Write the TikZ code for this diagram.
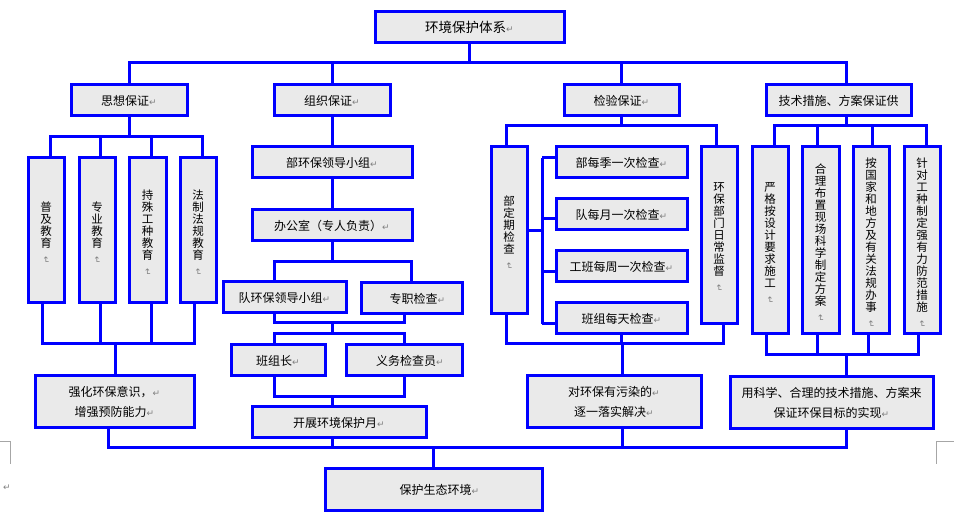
\documentclass[tikz,border=0pt]{standalone}
\usepackage{fontspec}
\usepackage{graphicx}
\setmainfont{Noto Sans CJK SC}
\newfontfamily\symf{DejaVu Sans}
\definecolor{lineblue}{RGB}{0,0,255}
\definecolor{boxfill}{RGB}{234,234,234}
\newcommand\rmk{{\color{gray}\symf\fontsize{9}{9}\selectfont ↵}}
\newcommand\vrmk{\raisebox{3pt}[5pt][0pt]{\color{gray}\rotatebox{-90}{\symf\fontsize{9}{9}\selectfont ↵}}}
\begin{document}
\begin{tikzpicture}[x=1pt,y=-1pt,
  box/.style={draw=lineblue, line width=3pt, fill=boxfill, inner sep=0pt,
    font=\fontsize{12}{14}\selectfont, align=center},
  vbox/.style={box, minimum width=36pt, font=\fontsize{11.5}{12}\selectfont},
  conn/.style={draw=lineblue, line width=3pt},
  pmark/.style={draw=gray!70, line width=0.8pt}]
\useasboundingbox (0,0) rectangle (954,518);

% ---------- nodes ----------
\node[box, minimum width=189pt, minimum height=31pt, font=\fontsize{13.5}{15}\selectfont] (top) at (469.5,27.5) {环境保护体系\rmk};

\node[box, minimum width=116pt, minimum height=31pt] (sx) at (129,100.5) {思想保证\rmk};
\node[box, minimum width=116pt, minimum height=31pt] (zz) at (332,100.5) {组织保证\rmk};
\node[box, minimum width=115pt, minimum height=31pt] (jy) at (621.5,100.5) {检验保证\rmk};
\node[box, minimum width=145pt, minimum height=31pt] (js) at (838.5,100.5) {技术措施、方案保证供};

% thought column
\node[vbox, minimum height=145pt] (b1) at (46,230.5) {普\\及\\教\\育\\\vrmk};
\node[vbox, minimum height=145pt] (b2) at (97,230.5) {专\\业\\教\\育\\\vrmk};
\node[vbox, minimum width=37pt, minimum height=145pt] (b3) at (147.5,230.5) {持\\殊\\工\\种\\教\\育\\\vrmk};
\node[vbox, minimum height=145pt] (b4) at (198,230.5) {法\\制\\法\\规\\教\\育\\\vrmk};
\node[box, minimum width=159pt, minimum height=52pt, font=\fontsize{12}{20}\selectfont] (qh) at (114.5,402) {强化环保意识，\rmk\\增强预防能力\rmk};

% organisation column
\node[box, minimum width=160pt, minimum height=31pt] (bu) at (332,162.5) {部环保领导小组\rmk};
\node[box, minimum width=160pt, minimum height=31pt] (bgs) at (332,225.5) {办公室（专人负责）\rmk};
\node[box, minimum width=123pt, minimum height=31pt] (dui) at (284.5,297.5) {队环保领导小组\rmk};
\node[box, minimum width=101pt, minimum height=31pt] (zhuan) at (411.5,298.5) {\quad 专职检查\rmk};
\node[box, minimum width=94pt, minimum height=31pt] (bzz) at (278,360.5) {班组长\rmk};
\node[box, minimum width=116pt, minimum height=31pt] (yw) at (404,360.5) {\quad 义务检查员\rmk};
\node[box, minimum width=174pt, minimum height=31pt] (kz) at (339,422.5) {开展环境保护月\rmk};

% inspection column
\node[vbox, minimum height=167pt] (ddq) at (509,230.5) {部\\定\\期\\检\\查\\\vrmk};
\node[vbox, minimum height=177pt] (rc) at (719,235.5) {环\\保\\部\\门\\日\\常\\监\\督\\\vrmk};
\node[box, minimum width=131pt, minimum height=31pt] (s1) at (621.5,162.5) {部每季一次检查\rmk};
\node[box, minimum width=131pt, minimum height=31pt] (s2) at (621.5,214.5) {队每月一次检查\rmk};
\node[box, minimum width=131pt, minimum height=31pt] (s3) at (621.5,266.5) {工班每周一次检查\rmk};
\node[box, minimum width=131pt, minimum height=31pt] (s4) at (621.5,318.5) {班组每天检查\rmk};
\node[box, minimum width=174pt, minimum height=52pt, font=\fontsize{12}{20}\selectfont] (dh) at (614,402) {对环保有污染的\rmk\\逐一落实解决\rmk};

% technical column
\node[vbox, minimum height=187pt] (v1) at (770,240.5) {严\\格\\按\\设\\计\\要\\求\\施\\工\\\vrmk};
\node[vbox, minimum width=37pt, minimum height=187pt] (v2) at (820.5,240.5) {合\\理\\布\\置\\现\\场\\科\\学\\制\\定\\方\\案\\\vrmk};
\node[vbox, minimum height=187pt] (v3) at (871,240.5) {按\\国\\家\\和\\地\\方\\及\\有\\关\\法\\规\\办\\事\\\vrmk};
\node[vbox, minimum height=187pt] (v4) at (922,240.5) {针\\对\\工\\种\\制\\定\\强\\有\\力\\防\\范\\措\\施\\\vrmk};
\node[box, minimum width=203pt, minimum height=52pt, font=\fontsize{12}{20}\selectfont] (yk) at (831.5,403) {用科学、合理的技术措施、方案来\\保证环保目标的实现\rmk};

\node[box, minimum width=217pt, minimum height=42pt] (bh) at (433.5,490) {\quad 保护生态环境\rmk};

% ---------- bus levels ----------
\coordinate (yTop) at (0,63);
\coordinate (ySx) at (0,137);
\coordinate (ySxB) at (0,344);
\coordinate (yBot) at (0,448);
\coordinate (yZ1) at (0,262);
\coordinate (yZ2) at (0,323);
\coordinate (yZ3) at (0,334);
\coordinate (yZ4) at (0,397);
\coordinate (yJ) at (0,126);
\coordinate (yJB) at (0,344);
\coordinate (yKB) at (0,355);
\coordinate (br1) at (542,158);
\coordinate (br2) at (542,219);
\coordinate (br3) at (542,272);
\coordinate (br4) at (542,324);

% ---------- connectors ----------
\draw[conn] (top.south) -- (top.south |- yTop);
\draw[conn] (sx.north) -- (sx.north |- yTop) -- ([xshift=7.5pt]js.north |- yTop) -- ([xshift=7.5pt]js.north);
\draw[conn] (zz.north) -- (zz.north |- yTop);
\draw[conn] (jy.north) -- (jy.north |- yTop);

% thought
\draw[conn] (sx.south) -- (sx.south |- ySx);
\draw[conn] ([xshift=4pt]b1.north) -- ([xshift=4pt]b1.north |- ySx) -- ([xshift=4pt]b4.north |- ySx) -- ([xshift=4pt]b4.north);
\draw[conn] ([xshift=3pt]b2.north) -- ([xshift=3pt]b2.north |- ySx);
\draw[conn] ([xshift=3.5pt]b3.north) -- ([xshift=3.5pt]b3.north |- ySx);
\draw[conn] ([xshift=-4pt]b1.south) -- ([xshift=-4pt]b1.south |- ySxB) -- ([xshift=-4pt]b4.south |- ySxB) -- ([xshift=-4pt]b4.south);
\draw[conn] ([xshift=3pt]b2.south) -- ([xshift=3pt]b2.south |- ySxB);
\draw[conn] ([xshift=3.5pt]b3.south) -- ([xshift=3.5pt]b3.south |- ySxB);
\draw[conn] ([xshift=0.5pt]qh.north) -- ([xshift=0.5pt]qh.north |- ySxB);

% organisation
\draw[conn] (zz.south) -- (bu.north);
\draw[conn] (bu.south) -- (bgs.north);
\draw[conn] (bgs.south) -- (bgs.south |- yZ1);
\draw[conn] ([xshift=-10.5pt]dui.north) -- ([xshift=-10.5pt]dui.north |- yZ1) -- (zhuan.north |- yZ1) -- (zhuan.north);
\draw[conn] ([xshift=-10.5pt]dui.south) -- ([xshift=-10.5pt]dui.south |- yZ2) -- ([xshift=-7.5pt]zhuan.south |- yZ2) -- ([xshift=-7.5pt]zhuan.south);
\draw[conn] (bgs.south |- yZ2) -- (bgs.south |- yZ3);
\draw[conn] ([xshift=-4pt]bzz.north) -- ([xshift=-4pt]bzz.north |- yZ3) -- (yw.north |- yZ3) -- (yw.north);
\draw[conn] ([xshift=-4pt]bzz.south) -- ([xshift=-4pt]bzz.south |- yZ4) -- (yw.south |- yZ4) -- (yw.south);
\draw[conn] (bgs.south |- yZ4) -- ([xshift=-7pt]kz.north);

% inspection
\draw[conn] (jy.south) -- (jy.south |- yJ);
\draw[conn] ([xshift=-3pt]ddq.north) -- ([xshift=-3pt]ddq.north |- yJ) -- ([xshift=-3pt]rc.north |- yJ) -- ([xshift=-3pt]rc.north);
\draw[conn] (ddq.east) -- (ddq.east -| br1);
\draw[conn] (br1) -- (br4);
\draw[conn] (br1) -- (br1 -| s1.west);
\draw[conn] (br2) -- (br2 -| s2.west);
\draw[conn] (br3) -- (br3 -| s3.west);
\draw[conn] (br4) -- (br4 -| s4.west);
\draw[conn] ([xshift=-3pt]ddq.south) -- ([xshift=-3pt]ddq.south |- yJB) -- ([xshift=4pt]rc.south |- yJB) -- ([xshift=4pt]rc.south);
\draw[conn] (s4.south) -- (s4.south |- yJB);
\draw[conn] ([xshift=8pt]dh.north) -- ([xshift=8pt]dh.north |- yJB);

% technical
\draw[conn] ([xshift=7.5pt]js.south) -- ([xshift=7.5pt]js.south |- yJ);
\draw[conn] ([xshift=4pt]v1.north) -- ([xshift=4pt]v1.north |- yJ) -- ([xshift=4pt]v4.north |- yJ) -- ([xshift=4pt]v4.north);
\draw[conn] ([xshift=-3.5pt]v2.north) -- ([xshift=-3.5pt]v2.north |- yJ);
\draw[conn] ([xshift=1pt]v3.north) -- ([xshift=1pt]v3.north |- yJ);
\draw[conn] ([xshift=-4pt]v1.south) -- ([xshift=-4pt]v1.south |- yKB) -- ([xshift=-4pt]v4.south |- yKB) -- ([xshift=-4pt]v4.south);
\draw[conn] ([xshift=-3.5pt]v2.south) -- ([xshift=-3.5pt]v2.south |- yKB);
\draw[conn] ([xshift=-3pt]v3.south) -- ([xshift=-3pt]v3.south |- yKB);
\draw[conn] ([xshift=14.5pt]yk.north) -- ([xshift=14.5pt]yk.north |- yKB);

% bottom
\draw[conn] ([xshift=-6.5pt]qh.south) -- ([xshift=-6.5pt]qh.south |- yBot) -- ([xshift=14.5pt]yk.south |- yBot) -- ([xshift=14.5pt]yk.south);
\draw[conn] ([xshift=-7pt]kz.south) -- ([xshift=-7pt]kz.south |- yBot);
\draw[conn] ([xshift=8pt]dh.south) -- ([xshift=8pt]dh.south |- yBot);
\draw[conn] (bh.north) -- (bh.north |- yBot);

% page marks
\draw[pmark] (0,441) -- (10,441) -- (10,464);
\draw[pmark] (954,441) -- (936,441) -- (936,464);
\node[inner sep=0pt] (endmark) at (7,488) {\rmk};
\end{tikzpicture}
\end{document}
